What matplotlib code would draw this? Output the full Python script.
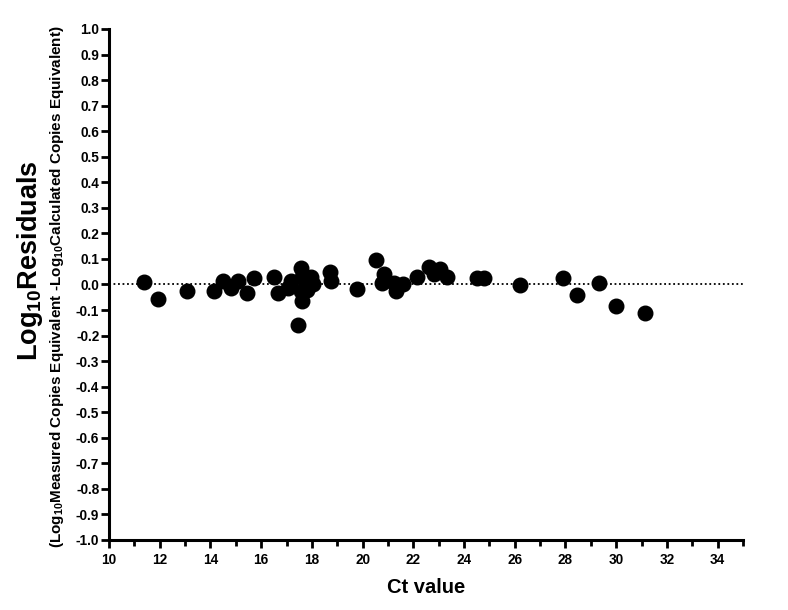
import matplotlib.pyplot as plt
import numpy as np
from matplotlib.ticker import MultipleLocator, FormatStrFormatter

plt.rcParams['font.family'] = 'Liberation Sans'
plt.rcParams['font.weight'] = 'bold'
plt.rcParams['mathtext.default'] = 'regular'

# --- Data ---
ct_values = [11.39, 11.92, 13.07, 14.15, 14.51, 14.80, 15.07, 15.46, 15.72,
             16.51, 16.67, 17.04, 17.17, 17.56, 17.63, 17.56, 17.63, 17.47,
             17.95, 18.06, 17.82, 18.71, 18.74, 19.76, 20.51, 20.84, 20.78,
             21.23, 21.30, 21.60, 22.15, 22.61, 22.81, 23.07, 23.33, 24.52,
             24.78, 26.22, 27.90, 28.45, 29.32, 30.00, 31.15]
residuals = [0.008, -0.057, -0.025, -0.025, 0.014, -0.012, 0.014, -0.034, 0.027,
             0.031, -0.034, -0.014, 0.014, 0.066, 0.031, -0.027, -0.063, -0.157,
             0.031, 0.001, -0.020, 0.050, 0.014, -0.017, 0.096, 0.040, 0.005,
             0.005, -0.025, 0.001, 0.031, 0.070, 0.040, 0.061, 0.031, 0.027,
             0.024, -0.004, 0.024, -0.040, 0.005, -0.085, -0.111]

fig = plt.figure(figsize=(7.88, 6.10), dpi=100)
ax = fig.add_axes([0.1383, 0.1148, 0.8046, 0.8377])

# zero reference line
ax.plot([10, 35], [0, 0], linestyle=(0, (1, 1.5)), color='black', linewidth=1.3, zorder=1)
ax.scatter(ct_values, residuals, s=110, color='black', zorder=3, clip_on=False)

ax.set_xlim(10, 35)
ax.set_ylim(-1.0, 1.0)
ax.xaxis.set_major_locator(MultipleLocator(2))
ax.xaxis.set_minor_locator(MultipleLocator(1))
ax.yaxis.set_major_locator(MultipleLocator(0.1))
ax.yaxis.set_major_formatter(FormatStrFormatter('%.1f'))

for side in ['top', 'right']:
    ax.spines[side].set_visible(False)
for side in ['left', 'bottom']:
    ax.spines[side].set_linewidth(2.2)

ax.tick_params(axis='both', which='major', direction='out', length=6, width=2,
               labelsize=9.8)
ax.tick_params(axis='x', which='major', pad=3.5)
ax.tick_params(axis='y', which='major', pad=1)
ax.tick_params(axis='x', which='minor', direction='out', length=4, width=2)
for lbl in ax.get_xticklabels() + ax.get_yticklabels():
    lbl.set_fontweight('bold')

ax.set_xlabel('Ct value', fontsize=14.5, fontweight='bold', labelpad=8)

fig.text(0.038, 0.572, r'Log$_{10}$Residuals', rotation=90, fontsize=19.5,
         fontweight='bold', ha='center', va='center')
fig.text(0.072, 0.530,
         r'(Log$_{10}$Measured Copies Equivalent -Log$_{10}$Calculated Copies Equivalent)',
         rotation=90, fontsize=11, fontweight='bold', ha='center', va='center')

fig.savefig('out.png', dpi=100)
